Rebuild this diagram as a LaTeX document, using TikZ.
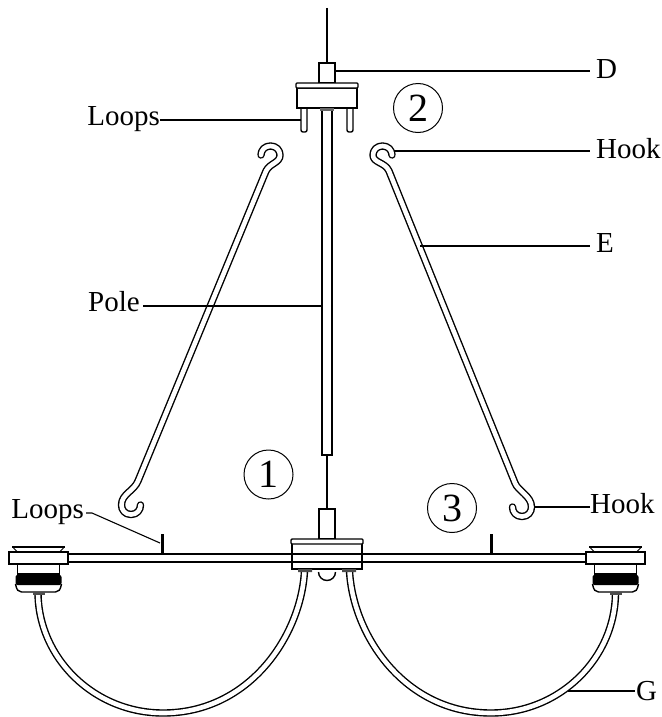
\documentclass[tikz,border=0pt]{standalone}
\usepackage{fontspec}
\setmainfont{Liberation Serif}
\usepackage{tikz}
\usetikzlibrary{positioning, calc}

\begin{document}
\begin{tikzpicture}[
  x=1pt, y=-1pt,
  every node/.style={font=\fontsize{29}{31}\selectfont, inner sep=0pt},
  part/.style={draw, line width=1.4pt, fill=white},
  tube/.style={draw, line width=1.4pt, double=white, double distance=4.6pt},
  hook/.style={tube, line cap=round, line join=round},
  wire/.style={draw, line width=2pt},
  leader/.style={draw, line width=1.1pt},
  numcircle/.style={draw, circle, line width=1pt, minimum size=49pt,
                    font=\fontsize{40}{42}\selectfont}
]
\useasboundingbox (0,0) rectangle (661,717);

% ---- UPPER FIXTURE ----
\draw[wire] (327,8) -- (327,63);
\draw[part] (319,63) rectangle (335,83);
\draw[part, rounded corners=2pt] (301,106) -- (301,132) -- (307,132) -- (307,106);
\draw[part, rounded corners=2pt] (347,106) -- (347,132) -- (353,132) -- (353,106);
\draw[part] (297,88) rectangle (357,108);
\draw[part, rounded corners=1pt] (296,83) rectangle (358,88);

% ---- POLE ----
\draw[wire] (327,455) -- (327,509);
\draw[part] (322,110) rectangle (332,455);
\fill[black!60] (320,108) rectangle (334,111);

% ---- HOOKS ----
\draw[hook] (261,155) .. controls (261,150) and (265,146) .. (270.5,146)
  .. controls (276,146) and (280,150) .. (280,155)
  .. controls (280,163) and (270,163) .. (266,171)
  -- (138,481) .. controls (134,491) and (121.5,494) .. (121.5,505)
  .. controls (121.5,510) and (125,514.5) .. (131,514.5)
  .. controls (137,514.5) and (140.5,510) .. (140.5,505);
\draw[hook] (392,155) .. controls (392,150) and (388,146) .. (382.5,146)
  .. controls (377,146) and (373,150) .. (373,155)
  .. controls (373,163) and (385,162) .. (389,171)
  -- (515,483) .. controls (518,491) and (531.5,496) .. (531.5,507)
  .. controls (531.5,512) and (528,516.5) .. (522,516.5)
  .. controls (516,516.5) and (512.5,512) .. (512.5,507);

% ---- LOWER FIXTURE ----
\draw[tube] (304.5,571) .. controls (301,635) and (250,713) .. (163,713)
  .. controls (94,713) and (38,658) .. (38,592);
\draw[tube] (349.5,571) .. controls (353,635) and (404,713) .. (491,713)
  .. controls (560,713) and (615.5,658) .. (615.5,592);
\draw[part] (66,554) -- (588,554) (66,562) -- (588,562);
\draw[line width=3pt] (162,534) -- (162,553) (491,534) -- (491,553);
\draw[part] (318.5,572) arc[start angle=180, end angle=0, radius=8.5];
\draw[part] (319,509) rectangle (335,539);
\draw[line width=1.4pt, fill=white] (292,544) -- (292,569) -- (362,569) -- (362,544);
\draw[line width=1.4pt] (292,554) -- (362,554) (292,562) -- (362,562);
\draw[part, rounded corners=1pt] (291,539) rectangle (363,544);
\fill[black!70] (298,569) rectangle (312,572) (342,569) rectangle (356,572);

% ---- LAMPS ----
\foreach \cx in {38.5,615.5} {
  \draw[line width=1.6pt] (\cx-26.5,547) -- (\cx+26.5,547);
  \draw[line width=1pt] (\cx-25,548) -- (\cx-21,552) (\cx+25,548) -- (\cx+21,552);
  \draw[part] (\cx-21,564) rectangle (\cx+21,574);
  \draw[part] (\cx-23,584) .. controls (\cx-22,590) and (\cx-20,592) .. (\cx-17,592)
    -- (\cx+17,592) .. controls (\cx+20,592) and (\cx+22,590) .. (\cx+23,584);
  \fill[black, rounded corners=2pt] (\cx-23,575) rectangle (\cx+23,585);
  \draw[part] (\cx-29.5,552) rectangle (\cx+29.5,564);
  \fill[black!70] (\cx-6,592) rectangle (\cx+6,595);
}

% ---- LABELS ----
\node[numcircle] (one) at (268.5,474.5) {1};
\node[numcircle] (two) at (418,108) {2};
\node[numcircle] (three) at (452,508) {3};

\node[anchor=base west] (lblD) at (596,78) {D};
\node[anchor=base east] (lblLoopsTop) at (160,125) {Loops};
\node[anchor=base west] (lblHookTop) at (596,158) {Hook};
\node[anchor=base west] (lblE) at (596,252) {E};
\node[anchor=base east] (lblPole) at (140,311) {Pole};
\node[anchor=base west] (lblHookLow) at (590,513) {Hook};
\node[anchor=base east] (lblLoopsLow) at (84,518) {Loops};
\node[anchor=base west] (lblG) at (636,700) {G};

\coordinate (endD) at (335,71);
\coordinate (endLoopsTop) at (301,120);
\coordinate (endHookTop) at (394,151);
\coordinate (endE) at (420,246);
\coordinate (endPole) at (322,306);
\coordinate (endHookLow) at (534,507);
\coordinate (endLoopsLow) at (160,543);
\coordinate (endG) at (568,691);

\draw[leader] (endD) -- (590,71);
\draw[leader] (endLoopsTop) -- (160,120);
\draw[leader] (endHookTop) -- (590,151);
\draw[leader] (endE) -- (590,246);
\draw[leader] (endPole) -- (143,306);
\draw[leader] (endHookLow) -- (590,507);
\draw[leader] (endLoopsLow) -- (92,513) -- (86,513);
\draw[leader] (endG) -- (635,691);
\end{tikzpicture}
\end{document}
